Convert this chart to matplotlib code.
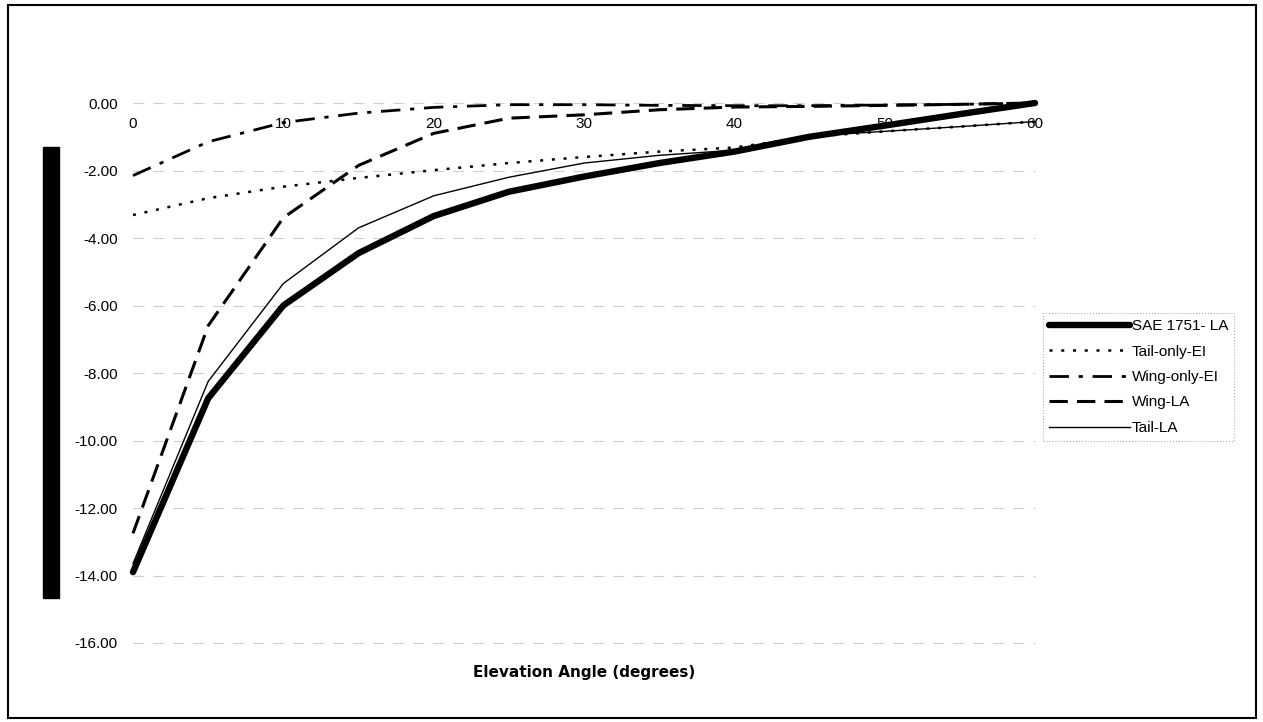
import matplotlib
matplotlib.use('Agg')
import matplotlib.pyplot as plt
from matplotlib.patches import Rectangle

# elevation angle (deg) and loss curves
angles = [0, 5, 10, 15, 20, 25, 30, 35, 40, 45, 50, 55, 60]
sae_la = [-13.9, -8.75, -6.0, -4.45, -3.35, -2.63, -2.18, -1.78, -1.44, -1.0, -0.67, -0.33, 0.0]
tail_only_ei = [-3.32, -2.82, -2.48, -2.22, -1.99, -1.78, -1.6, -1.44, -1.32, -1.0, -0.84, -0.7, -0.55]
wing_only_ei = [-2.15, -1.15, -0.58, -0.3, -0.13, -0.05, -0.05, -0.07, -0.08, -0.08, -0.06, -0.04, 0.0]
wing_la = [-12.75, -6.6, -3.4, -1.85, -0.9, -0.45, -0.35, -0.2, -0.12, -0.1, -0.07, -0.04, 0.0]
tail_la = [-13.65, -8.25, -5.35, -3.7, -2.75, -2.2, -1.78, -1.55, -1.4, -0.98, -0.84, -0.7, -0.55]

x_ticks = [0, 10, 20, 30, 40, 50, 60]
y_ticks = [0, -2, -4, -6, -8, -10, -12, -14, -16]

plt.rcParams['font.family'] = ['Liberation Sans', 'DejaVu Sans']

W, H = 1263, 722
fig = plt.figure(figsize=(W / 100, H / 100), dpi=100)
ax = fig.add_axes([133 / W, 1 - 643 / H, (1035 - 133) / W, (643 - 103) / H])

ax.plot(angles, sae_la, color='black', lw=4.6, solid_capstyle='round', label='SAE 1751- LA', clip_on=False, zorder=5)
ax.plot(angles, tail_only_ei, color='black', lw=1.8, linestyle=(0, (1.2, 3.5)), label='Tail-only-EI', clip_on=False)
ax.plot(angles, wing_only_ei, color='black', lw=2.0, linestyle=(0, (7, 3.5, 1.5, 3.5)), label='Wing-only-EI', clip_on=False)
ax.plot(angles, wing_la, color='black', lw=2.2, linestyle=(0, (6, 3)), label='Wing-LA', clip_on=False)
ax.plot(angles, tail_la, color='black', lw=1.0, label='Tail-LA', clip_on=False)

ax.set_xlim(0, 60)
ax.set_ylim(-16, 0)
for s in ax.spines.values():
    s.set_visible(False)

ax.set_yticks(y_ticks)
ax.set_yticklabels(['%.2f' % v for v in y_ticks], fontsize=11)
ax.tick_params(axis='y', length=0, pad=11)
ax.set_xticks([])
for v in y_ticks:
    ax.axhline(v, color='#cfcfcf', lw=0.8, linestyle=(0, (10, 8)), zorder=0, clip_on=False)

for t in x_ticks:
    ax.annotate(str(t), (t, 0), xytext=(0, -10), textcoords='offset points',
                ha='center', va='top', fontsize=11, zorder=6)

fig.text((133 + 1035) / 2 / W, 1 - 672 / H, 'Elevation Angle (degrees)',
         ha='center', va='center', fontsize=11, fontweight='bold',
         family=['DejaVu Sans'])

leg = ax.legend(loc='upper left', bbox_to_anchor=(1043 / W, 1 - 313 / H),
                bbox_transform=fig.transFigure, borderaxespad=0, frameon=True,
                fontsize=11, handlelength=5.3, handletextpad=0.1,
                labelspacing=0.75, borderpad=0.4, fancybox=False)
leg.get_frame().set_edgecolor('#999999')
leg.get_frame().set_linestyle(':')
leg.get_frame().set_linewidth(0.8)

# blacked-out axis title and outer frame from the scan
fig.patches.append(Rectangle((43 / W, 1 - 598 / H), 16 / W, 451 / H,
                             transform=fig.transFigure, color='black'))
fig.patches.append(Rectangle((8 / W, 1 - 718 / H), 1248 / W, 713 / H,
                             transform=fig.transFigure, fill=False,
                             edgecolor='black', lw=1.5))

fig.savefig('out.png', dpi=100)
